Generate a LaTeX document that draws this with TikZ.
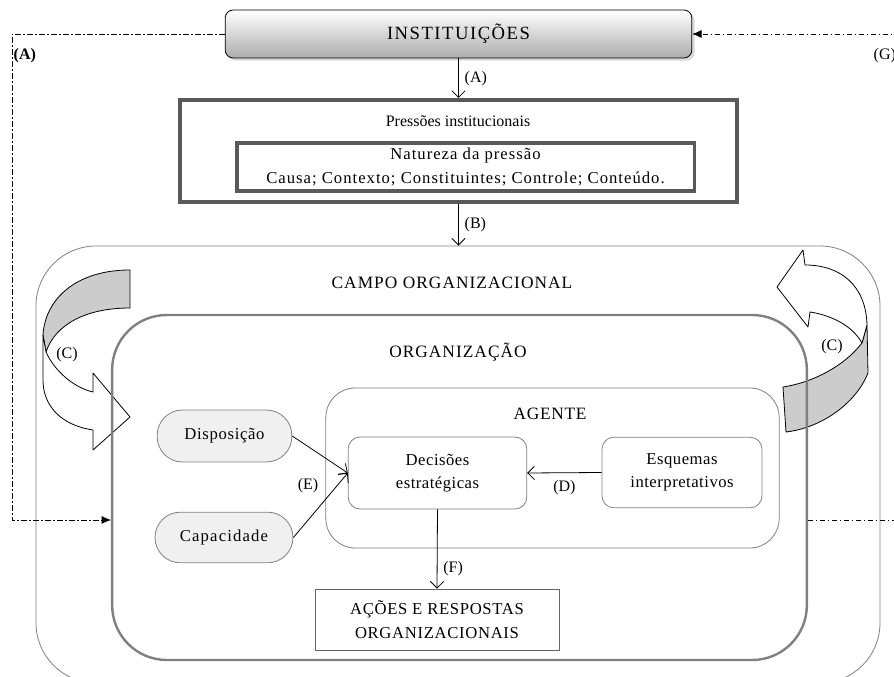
\documentclass[tikz,border=0pt]{standalone}
\usepackage{fontspec}
\setmainfont{Liberation Serif}
\usetikzlibrary{arrows.meta,shadows}

\begin{document}
\begin{tikzpicture}[x=0.75pt,y=-0.75pt,
    font=\fontsize{12}{17}\selectfont,
    line width=0.6pt,
    espaco/.style n args={2}{font=\fontsize{#1}{17.5}\selectfont\addfontfeatures{LetterSpace=#2}},
    caixa/.style={draw=gray,rounded corners=9pt,align=center,inner sep=0pt},
    pilula/.style={draw=gray,fill=gray!12,rounded corners=19pt,inner sep=0pt},
    seta/.style={-{Straight Barb[length=5pt,width=10pt]}},
    tracoponto/.style={dash pattern=on 4pt off 2pt on 1pt off 2pt},
    fita/.style={draw=black,line join=round}]
    \useasboundingbox (0,0) rectangle (894,677);
    \clip (0,0) rectangle (894,677);
    % instituicoes e pressoes
    \node[draw=black,rounded corners=6pt,top color=white,bottom color=gray!65,
      drop shadow={shadow xshift=2pt,shadow yshift=-2pt,fill=gray!60},
      minimum width=350pt,minimum height=36pt,espaco={14}{8}] (inst) at (458.5,34) {INSTITUIÇÕES};
    \node[draw=black!65,line width=3pt,minimum width=418pt,minimum height=76.5pt] (press) at (458.5,151) {};
    \node (presstit) at (458,121) {Pressões institucionais};
    \node[draw=black!65,line width=2.5pt,minimum width=343pt,minimum height=36pt,
      align=center,inner sep=0pt,espaco={12.5}{6}] (nat) at (465.5,167)
      {Natureza da pressão\\Causa; Contexto; Constituintes; Controle; Conteúdo.};
    % campo organizacional
    \node[draw=gray,minimum width=633pt,minimum height=327.75pt,rounded corners=45pt] (campo) at (458,464.5) {};
    \node[espaco={13}{6}] (campotit) at (452,283) {CAMPO ORGANIZACIONAL};
    % setas curvas (C)
    \filldraw[fita,fill=gray!40] (130,270) .. controls (75,270) and (45,300) .. (43,335)
      -- (46,352) .. controls (55,325) and (85,308) .. (130,308) -- cycle;
    \filldraw[fita,fill=white] (43,335) -- (43,380) .. controls (43,405) and (60,425) .. (93,430)
      -- (93,450) -- (130,417) -- (93,373) -- (93,392)
      .. controls (75,388) and (55,372) .. (46,352) -- cycle;
    \filldraw[fita,fill=gray!40] (783,387) .. controls (815,382) and (845,365) .. (862,343)
      -- (867,325) -- (868,373) .. controls (855,405) and (820,428) .. (786,432) -- cycle;
    \filldraw[fita,fill=white] (867,325) .. controls (866,285) and (840,265) .. (805,265)
      -- (803,250) -- (777,287) -- (808,327) -- (810,312)
      .. controls (830,315) and (852,325) .. (862,343) -- cycle;
    \node (rotC1) at (67,355) {(C)};
    \node (rotC2) at (832,347) {(C)};
    % organizacao
    \node[draw=gray,line width=1.8pt,minimum width=521pt,minimum height=258.75pt,rounded corners=41pt] (org) at (459.5,487.5) {};
    \node[espaco={13}{6}] (orgtit) at (458,352) {ORGANIZAÇÃO};
    \node[caixa,rounded corners=22pt,minimum width=340pt,minimum height=120pt] (agente) at (552.5,468) {};
    \node[espaco={13}{4}] (agentetit) at (550,414) {AGENTE};
    \node[caixa,minimum width=134pt,minimum height=54pt,espaco={12.5}{3}] (decis) at (437.5,473) {Decisões\\estratégicas};
    \node[caixa,minimum width=120pt,minimum height=53pt,espaco={12.5}{3}] (esquemas) at (682,472.5) {Esquemas\\interpretativos};
    \node[pilula,minimum width=101pt,minimum height=39pt,espaco={12.5}{4}] (disp) at (224.5,436) {Disposição};
    \node[pilula,minimum width=103.5pt,minimum height=38pt,espaco={12.5}{7}] (capac) at (224,537.5) {Capacidade};
    \node[draw=gray!80!black,minimum width=183pt,minimum height=45.75pt,align=center,inner sep=0pt,espaco={12.5}{4}]
      (acoes) at (437,619.5) {AÇÕES E RESPOSTAS\\ORGANIZACIONAIS};
    % ligacoes
    \draw[seta] (inst.south) -- (press.north) node[midway,right=1pt] {(A)};
    \draw[seta] (press.south) -- (press.south |- campo.north) node[midway,right=1pt] {(B)};
    \draw[seta] (disp.east) -- (decis.west);
    \draw[seta] (capac.east) -- (decis.west);
    \node (rotE) at (308,486) {(E)};
    \draw[seta] (esquemas.west) -- (decis.east) node[midway,below=2pt] {(D)};
    \draw[seta] (decis.south) -- (acoes.north) node[pos=0.75,right=1pt] {(F)};
    % retroacao
    \coordinate (esqA1) at (12,34);
    \coordinate (esqA2) at (12,520);
    \coordinate (dirG1) at (900,34);
    \coordinate (dirG2) at (900,520);
    \draw[tracoponto,-{Latex[length=7pt,width=6pt]}] (inst.west) -- (esqA1) -- (esqA2) -- (esqA2 -| org.west);
    \draw[tracoponto,-{Latex[length=7pt,width=6pt]}] (dirG1) -- (inst.east);
    \draw[tracoponto] (org.east |- dirG2) -- (dirG2);
    \node[anchor=west,inner sep=1pt] (rotA) at (12,56) {\textbf{(A)}};
    \node[anchor=west,inner sep=1pt] (rotG) at (872,56) {(G)};
\end{tikzpicture}
\end{document}
